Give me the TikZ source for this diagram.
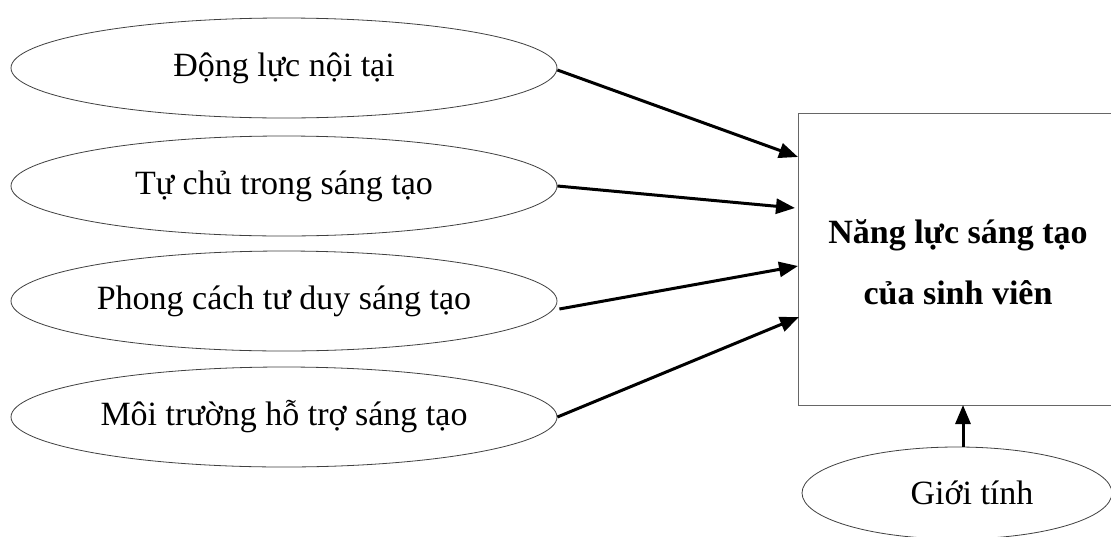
\documentclass[tikz,border=0pt]{standalone}
\usepackage{fontspec}
\setmainfont{Liberation Serif}
\usetikzlibrary{shapes.geometric,arrows.meta}
\tikzset{
  factor/.style={ellipse, draw=black!75, line width=0.8pt, minimum width=546pt, minimum height=100pt, inner sep=0pt, font=\fontsize{34}{40}\selectfont},
  target/.style={rectangle, draw=black!60, line width=1pt, inner sep=0pt},
  link/.style={line width=3pt, -{Triangle[length=19pt,width=15pt]}}
}
\begin{document}
\begin{tikzpicture}[x=1pt,y=-1pt]
\clip (0,0) rectangle (1111,536);
\fill[white] (0,0) rectangle (1111,536);
\node[factor] (e1) at (284,68) {Động lực nội tại};
\node[factor] (e2) at (284,186) {Tự chủ trong sáng tạo};
\node[factor] (e3) at (284,301) {Phong cách tư duy sáng tạo};
\node[factor] (e4) at (284,417) {Môi trường hỗ trợ sáng tạo};
\draw[target] (798,113) rectangle (1118,405);
\node[inner sep=0pt, align=center, font=\fontsize{34}{61}\selectfont\bfseries] (box) at (958,262) {Năng lực sáng tạo\\của sinh viên};
\coordinate (t1) at (798,157);
\coordinate (t2) at (795,208);
\coordinate (t3) at (798,266);
\coordinate (t4) at (799,317);
\coordinate (t5) at (963,405);
\node[ellipse, draw=black!75, line width=0.8pt, minimum width=310pt, minimum height=92pt, inner sep=0pt] (g) at (957,493) {};
\node[font=\fontsize{34}{40}\selectfont] (gt) at (972,493) {Giới tính};
\draw[link] ([yshift=-2pt]e1.east) -- (t1);
\draw[link] (e2.east) -- (t2);
\draw[link] ([xshift=2pt,yshift=-8pt]e3.east) -- (t3);
\draw[link] (e4.east) -- (t4);
\draw[link] (g.north -| t5) -- (t5);
\end{tikzpicture}
\end{document}
